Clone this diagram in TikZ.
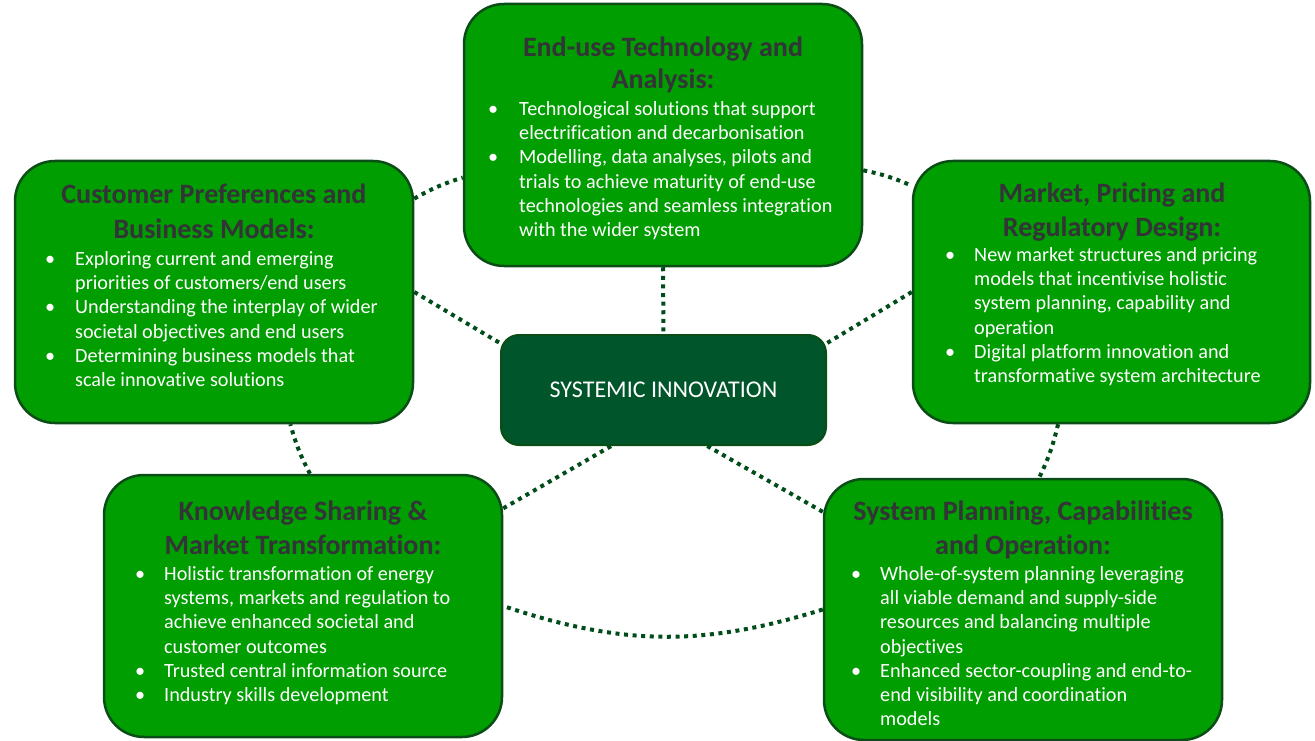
\documentclass[tikz,border=0pt]{standalone}
\usepackage{fontspec}
\setmainfont{Carlito}[Ligatures=NoCommon]
\definecolor{boxgreen}{HTML}{009E00}
\definecolor{boxedge}{HTML}{0B4D16}
\definecolor{coregreen}{HTML}{00552A}
\definecolor{titlegrey}{HTML}{333338}
\definecolor{dotgreen}{HTML}{004D1A}
\newcommand{\bl}{\makebox[0pt][c]{\textbullet}}
\newcommand{\bodyfont}{\fontsize{20.2}{24.2}\selectfont}
\newcommand{\titlefont}{\fontsize{28}{34.5}\selectfont\bfseries}
\begin{document}
\begin{tikzpicture}[x=1pt,y=-1pt,
  box/.style={draw=boxedge, line width=2.5pt, fill=boxgreen, rounded corners=40pt, inner sep=0pt},
  core/.style={draw=boxedge, line width=2pt, fill=coregreen, rounded corners=18pt, inner sep=0pt,
    minimum width=325pt, minimum height=110pt, text=white, font=\fontsize{24}{28}\selectfont},
  ttl/.style={anchor=base, inner sep=0pt, text=titlegrey, font=\titlefont},
  lst/.style={anchor=base west, inner sep=0pt, text=white, font=\bodyfont},
  link/.style={draw=dotgreen, line width=4pt, dash pattern=on 4pt off 4.6pt, line cap=butt}
]
\useasboundingbox (0,0) rectangle (1315,741);

% boxes
\node[box, minimum width=398pt, minimum height=262pt] (enduse) at (663,135) {};
\node[box, minimum width=398pt, minimum height=262pt] (cust) at (214,292) {};
\node[box, minimum width=397pt, minimum height=262pt] (mkt) at (1111.5,292) {};
\node[box, minimum width=398pt, minimum height=262pt] (know) at (303,606) {};
\node[box, minimum width=398pt, minimum height=261pt] (sys) at (1023,609.5) {};
\node[core] (core) at (663.5,390) {SYSTEMIC INNOVATION};

% ring links
\draw[link] (cust.25) to[bend left=6] (enduse.192);
\draw[link] (enduse.350) to[bend left=6] (mkt.152);
\draw[link] (mkt.248) to[bend left=6] (sys.83);
\draw[link] (sys.west) to[bend left=18] (know.east);
\draw[link] (know.87) to[bend left=6] (cust.300);

% spokes
\draw[link] (enduse.south) -- (core.north);
\draw[link] (cust.east) -- (core.164);
\draw[link] (mkt.west) -- (core.16);
\draw[link] (know.26) -- (core.227);
\draw[link] (sys.154) -- (core.308);

% titles
\node[ttl, font=\fontsize{28}{32}\selectfont\bfseries] (enduseT) at (663,57) {\begin{tabular}[t]{@{}c@{}}End-use Technology and\\Analysis:\end{tabular}};
\node[ttl] (custT) at (214,204) {\begin{tabular}[t]{@{}c@{}}Customer Preferences and\\Business Models:\end{tabular}};
\node[ttl] (mktT) at (1112,202) {\begin{tabular}[t]{@{}c@{}}Market, Pricing and\\Regulatory Design:\end{tabular}};
\node[ttl] (knowT) at (303,520) {\begin{tabular}[t]{@{}c@{}}Knowledge Sharing \&\\Market Transformation:\end{tabular}};
\node[ttl] (sysT) at (1023,520) {\begin{tabular}[t]{@{}c@{}}System Planning, Capabilities\\and Operation:\end{tabular}};

% lists
\node[lst] (enduseL) at (493,115.5) {\begin{tabular}[t]{@{}p{26pt}@{}l@{}}
\bl & Technological solutions that support\\
 & electrification and decarbonisation\\
\bl & Modelling, data analyses, pilots and\\
 & trials to achieve maturity of end-use\\
 & technologies and seamless integration\\
 & with the wider system
\end{tabular}};
\node[lst] (custL) at (50,265.5) {\begin{tabular}[t]{@{}p{25pt}@{}l@{}}
\bl & Exploring current and emerging\\
 & priorities of customers/end users\\
\bl & Understanding the interplay of wider\\
 & societal objectives and end users\\
\bl & Determining business models that\\
 & scale innovative solutions
\end{tabular}};
\node[lst] (mktL) at (950,261.5) {\begin{tabular}[t]{@{}p{24pt}@{}l@{}}
\bl & New market structures and pricing\\
 & models that incentivise holistic\\
 & system planning, capability and\\
 & operation\\
\bl & Digital platform innovation and\\
 & transformative system architecture
\end{tabular}};
\node[lst] (knowL) at (140,580.5) {\begin{tabular}[t]{@{}p{24pt}@{}l@{}}
\bl & Holistic transformation of energy\\
 & systems, markets and regulation to\\
 & achieve enhanced societal and\\
 & customer outcomes\\
\bl & Trusted central information source\\
\bl & Industry skills development
\end{tabular}};
\node[lst] (sysL) at (856,580.5) {\begin{tabular}[t]{@{}p{24pt}@{}l@{}}
\bl & Whole-of-system planning leveraging\\
 & all viable demand and supply-side\\
 & resources and balancing multiple\\
 & objectives\\
\bl & Enhanced sector-coupling and end-to-\\
 & end visibility and coordination\\
 & models
\end{tabular}};
\end{tikzpicture}
\end{document}
